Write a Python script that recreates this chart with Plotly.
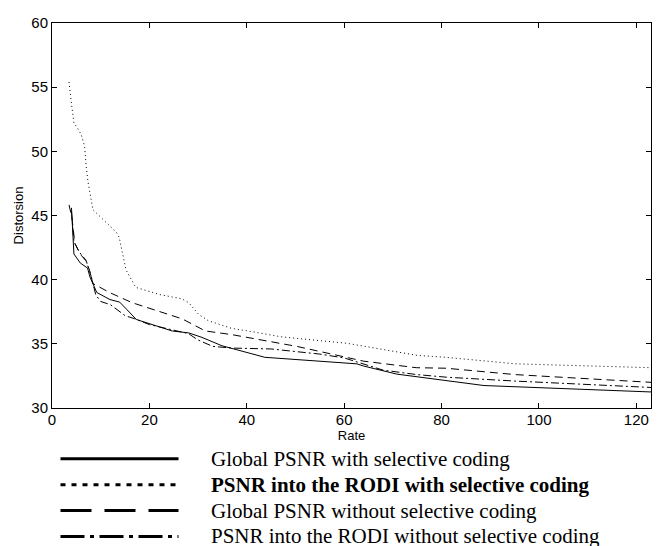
import plotly.graph_objects as go

# Global PSNR with selective coding
solid_x = [4.0, 4.5, 5.8, 7.3, 7.8, 9.2, 11.9, 13.9, 15.3, 17.3, 21.4, 24.7, 28.1, 30.8, 34.9, 43.7, 62.6, 64.0, 70.8, 80.9, 88.7, 123.0]
solid_y = [45.6, 42.0, 41.3, 40.9, 40.2, 39.0, 38.45, 38.25, 37.7, 36.9, 36.4, 36.0, 35.85, 35.5, 34.85, 33.95, 33.44, 33.27, 32.64, 32.17, 31.75, 31.25]

# PSNR into the RODI with selective coding
dot_x = [3.5, 3.7, 4.0, 4.5, 5.1, 6.0, 6.7, 7.0, 7.4, 8.1, 8.4, 13.2, 13.8, 15.2, 17.2, 22.0, 26.7, 28.1, 30.1, 32.1, 36.9, 40.3, 47.0, 60.6, 68.7, 75.0, 80.9, 95.2, 123.0]
dot_y = [55.4, 54.5, 53.7, 52.2, 51.9, 51.3, 50.4, 48.9, 47.6, 46.1, 45.45, 43.7, 43.3, 40.75, 39.4, 38.85, 38.5, 38.2, 37.3, 36.8, 36.2, 36.0, 35.55, 35.04, 34.5, 34.1, 33.95, 33.44, 33.14]

# Global PSNR without selective coding
dash_x = [3.5, 4.1, 4.7, 6.0, 6.9, 7.7, 8.4, 9.8, 11.8, 16.5, 20.6, 26.7, 31.5, 36.9, 50.4, 60.6, 64.0, 74.8, 80.9, 95.2, 123.0]
dash_y = [45.83, 44.8, 42.8, 41.9, 41.5, 40.75, 39.7, 39.4, 39.0, 38.2, 37.7, 36.95, 36.0, 35.72, 34.79, 33.9, 33.65, 33.14, 33.1, 32.6, 32.0]

# PSNR into the RODI without selective coding
dd_x = [4.0, 4.5, 5.5, 7.0, 8.0, 9.0, 10.0, 12.0, 15.0, 17.0, 20.0, 25.0, 28.0, 30.0, 33.0, 37.0, 45.0, 50.0, 55.0, 60.0, 64.0, 68.0, 75.0, 81.0, 95.0, 123.0]
dd_y = [45.3, 43.0, 42.2, 41.5, 40.3, 38.8, 38.3, 38.05, 37.2, 36.95, 36.5, 36.05, 35.8, 35.3, 34.8, 34.67, 34.6, 34.4, 34.2, 33.9, 33.4, 32.95, 32.6, 32.4, 32.1, 31.6]

legend_labels = [
    "Global PSNR with selective coding",
    "<b>PSNR into the RODI with selective coding</b>",
    "Global PSNR without selective coding",
    "PSNR into the RODI without selective coding",
]
x_ticks = [0, 20, 40, 60, 80, 100, 120]
y_ticks = [30, 35, 40, 45, 50, 55, 60]

plot_dashes = ["solid", "1px,3px", "8px,5px", "8px,3px,2px,3px"]
legend_dashes = ["solid", "5px,6px", "31px,13px", "24px,5.5px,4px,5.5px"]

series = [(solid_x, solid_y), (dot_x, dot_y), (dash_x, dash_y), (dd_x, dd_y)]

fig = go.Figure()
for (xs, ys), dash in zip(series, plot_dashes):
    fig.add_trace(go.Scatter(x=xs, y=ys, mode="lines",
                             line=dict(color="black", width=1, dash=dash),
                             showlegend=False, hoverinfo="skip"))

# page body has an 8px margin: work in figure coordinates
W, H = 659, 538
L, R, T, B = 44, 643, 6, 400
fig.update_layout(
    width=W, height=H,
    margin=dict(l=L, r=W - R, t=T, b=H - B, pad=0),
    paper_bgcolor="white", plot_bgcolor="white",
    font=dict(family="Liberation Sans, Arial, sans-serif", color="black", size=15),
    showlegend=False,
)
axis_common = dict(showline=True, linecolor="black", linewidth=1, mirror="allticks",
                   ticks="inside", ticklen=5, tickcolor="black", showgrid=False,
                   zeroline=False, tickfont=dict(size=15), ticklabeloverflow="allow")
fig.update_xaxes(range=[0, 123], tickvals=x_ticks, ticklabelstandoff=-2,
                 title=dict(text="Rate", font=dict(size=13), standoff=0), **axis_common)
fig.update_yaxes(range=[30, 60], tickvals=y_ticks,
                 title=dict(text="Distorsion", font=dict(size=13), standoff=4), **axis_common)

# custom legend below the axes (paper coordinates)
row_px = [452, 478.5, 505, 531.5]
for lab, dsh, ry in zip(legend_labels, legend_dashes, row_px):
    yp = (B - ry) / (B - T)
    x0 = (52.5 - L) / (R - L)
    x1 = (170.5 - L) / (R - L)
    fig.add_shape(type="line", xref="paper", yref="paper", x0=x0, x1=x1, y0=yp, y1=yp,
                  line=dict(color="black", width=3, dash=dsh))
    fig.add_annotation(xref="paper", yref="paper", x=(201 - L) / (R - L), y=yp,
                       text=lab, showarrow=False, xanchor="left", yanchor="middle",
                       font=dict(family="Liberation Serif, Times New Roman, serif", size=21, color="black"))

fig.write_html("out.html")
